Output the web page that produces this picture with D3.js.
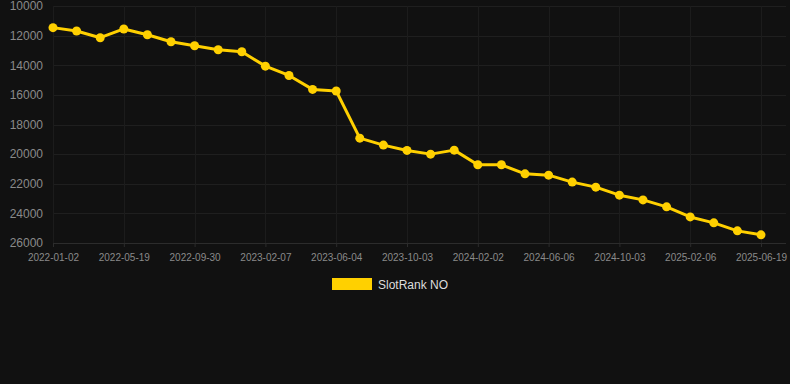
<!DOCTYPE html>
<html><head><meta charset="utf-8">
<script src="https://cdn.jsdelivr.net/npm/d3@7/dist/d3.min.js"></script>
<style>
html,body{margin:0;padding:0;background:#111111;}
svg{display:block;}
</style></head>
<body><svg id="c" width="790" height="384"></svg>
<script>
const dates = ["2022-01-02","2022-02-16","2022-04-03","2022-05-19","2022-07-02","2022-08-16","2022-09-30","2022-11-12","2022-12-25","2023-02-07","2023-03-17","2023-04-26","2023-06-04","2023-07-14","2023-08-23","2023-10-03","2023-11-12","2023-12-23","2024-02-02","2024-03-14","2024-04-25","2024-06-06","2024-07-15","2024-08-24","2024-10-03","2024-11-14","2024-12-26","2025-02-06","2025-03-21","2025-05-05","2025-06-19"];
const ranks = [11460,11690,12140,11550,11940,12410,12680,12950,13090,14060,14690,15630,15740,18920,19390,19750,20000,19730,20720,20720,21330,21420,21890,22230,22770,23090,23560,24240,24640,25180,25450];
const tickLabels = ["2022-01-02","2022-05-19","2022-09-30","2023-02-07","2023-06-04","2023-10-03","2024-02-02","2024-06-06","2024-10-03","2025-02-06","2025-06-19"];
const yTicks = [10000,12000,14000,16000,18000,20000,22000,24000,26000];
const seriesName = "SlotRank NO";

(function(){
const svg = d3.select("#c");
const pL = 53, pR = 761, gridR = 786, pT = 6, pB = 243;
const x = d3.scalePoint().domain(dates).range([pL, pR]);
const y = d3.scaleLinear().domain([10000, 26000]).range([pT, pB]);
const color = "#FFD000";
const font = "Arial, 'Liberation Sans', sans-serif";

svg.append("g").selectAll("line").data(yTicks).join("line")
  .attr("x1", pL).attr("x2", gridR)
  .attr("y1", d => Math.round(y(d)) + 0.5).attr("y2", d => Math.round(y(d)) + 0.5)
  .attr("stroke", d => d === 26000 ? "#2c2c2c" : "#1f1f1f").attr("stroke-width", 1);
svg.append("g").selectAll("line").data(tickLabels).join("line")
  .attr("x1", d => Math.round(x(d)) + 0.5).attr("x2", d => Math.round(x(d)) + 0.5)
  .attr("y1", pT).attr("y2", pB)
  .attr("stroke", "#1c1c1c").attr("stroke-width", 1);

const yAxis = d3.axisLeft(y).tickValues(yTicks).tickSize(0).tickPadding(10).tickFormat(d3.format("d"));
const yg = svg.append("g").attr("transform", `translate(${pL},0)`).call(yAxis);
yg.select(".domain").remove();
yg.selectAll("text").attr("fill", "#8a8a8a").attr("font-size", 12).attr("font-family", font);

const xAxis = d3.axisBottom(x).tickValues(tickLabels).tickSize(4).tickPadding(7);
const xg = svg.append("g").attr("transform", `translate(0,${pB})`).call(xAxis);
xg.select(".domain").remove();
xg.selectAll("line").attr("stroke", "#2c2c2c");
xg.selectAll("text").attr("fill", "#8a8a8a").attr("font-size", 10).attr("font-family", font);

const line = d3.line().x((d,i) => x(dates[i])).y(d => y(d));
svg.append("path").datum(ranks).attr("d", line)
  .attr("fill", "none").attr("stroke", color).attr("stroke-width", 3).attr("stroke-linejoin","round");
svg.append("g").selectAll("circle").data(ranks).join("circle")
  .attr("cx", (d,i) => x(dates[i])).attr("cy", d => y(d)).attr("r", 4.5)
  .attr("fill", color);

svg.append("rect").attr("x", 332).attr("y", 278).attr("width", 40).attr("height", 12).attr("fill", color);
svg.append("text").attr("x", 378).attr("y", 288.5).text(seriesName)
  .attr("fill", "#dddddd").attr("font-size", 12).attr("font-family", font);
})();
</script></body></html>
